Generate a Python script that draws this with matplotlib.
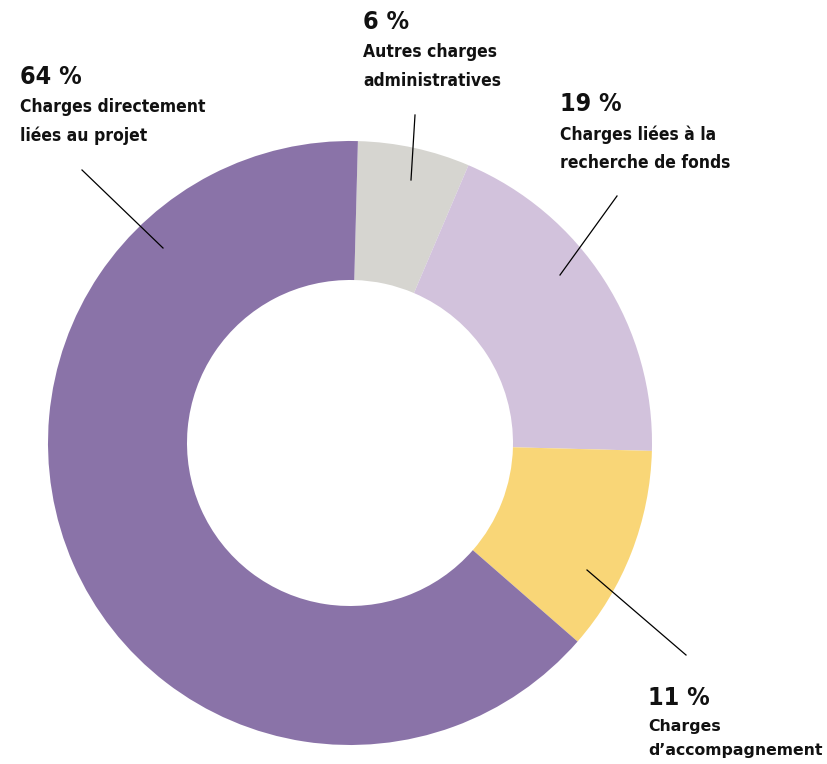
import matplotlib.pyplot as plt

# Répartition des charges
categories = ["Autres charges\nadministratives",
              "Charges liées à la\nrecherche de fonds",
              "Charges\nd\u2019accompagnement",
              "Charges directement\nliées au projet"]
values = [6, 19, 11, 64]
colors = ["#D6D5D0", "#D2C2DC", "#F9D677", "#8A73A8"]

plt.rcParams['font.family'] = ['DejaVu Sans']

fig = plt.figure(figsize=(8.27, 7.64), dpi=100)
ax = fig.add_axes([0, 0, 1, 1])

H = 764
cx, cy, r = 350, H - 443, 302
ax.pie(values, colors=colors, startangle=88.5, counterclock=False,
       center=(cx, cy), radius=r, frame=True,
       wedgeprops=dict(width=139, linewidth=0))
ax.set_xlim(0, 827)
ax.set_ylim(0, 764)
ax.set_aspect('equal')
ax.axis('off')

# positions des étiquettes (x, y du texte), segments des lignes de rappel
label_pos = [(363, 10), (560, 92), (648, 686), (20, 65)]
leaders = [((415, 115), (411, 180)), ((617, 196), (560, 275)),
           ((686, 655), (587, 570)), ((82, 170), (163, 248))]

for i, (cat, v, (tx, ty), (p1, p2)) in enumerate(zip(categories, values, label_pos, leaders)):
    stretch = 'normal' if i == 2 else 'condensed'
    size = 11.3 if i == 2 else 12.5
    ax.text(tx, H - ty, f"{v} %", fontsize=18, fontweight='bold',
            fontstretch='condensed', ha='left', va='top', color='#111111')
    ax.text(tx, H - ty - 33, cat, fontsize=size, fontweight='bold',
            fontstretch=stretch, ha='left', va='top', color='#111111',
            linespacing=1.75)
    ax.plot([p1[0], p2[0]], [H - p1[1], H - p2[1]], color='black', lw=0.9)

fig.savefig("out.png", dpi=100)
